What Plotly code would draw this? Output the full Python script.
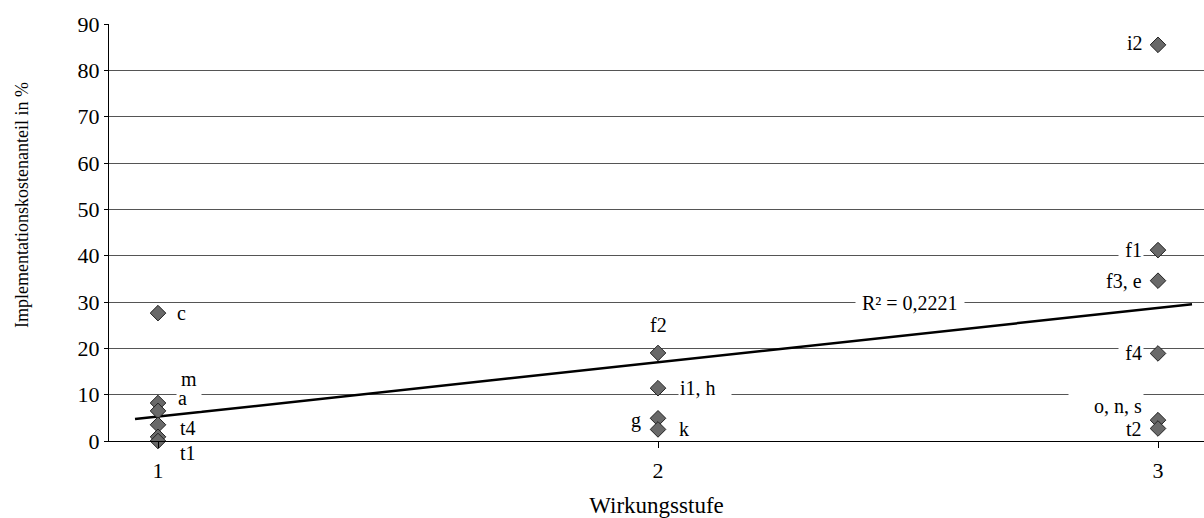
import numpy as np
import plotly.graph_objects as go

# Wirkungsstufe (x) und Implementationskostenanteil in % (y) je Maßnahme
stufe = [1, 1, 1, 1, 1, 1, 2, 2, 2, 2, 3, 3, 3, 3, 3, 3]
anteil = [27.6, 8.2, 6.5, 3.5, 0.9, 0.0,
          19.0, 11.4, 4.9, 2.5,
          85.5, 41.2, 34.6, 18.9, 4.5, 2.7]
punkt_labels = ["c", "m", "a", "t4", "t1", "",
                "f2", "i1, h", "g", "k",
                "i2", "f1", "f3, e", "f4", "o, n, s", "t2"]

y_ticks = [0, 10, 20, 30, 40, 50, 60, 70, 80, 90]
x_ticks = [1, 2, 3]
r2_text = "R² = 0,2221"
trend_extent = [0.954, 3.068]

# label placement: (xshift px, yshift px, xanchor, box width, white box)
placement = {
    "c": (17, 0, "left", None, False),
    "m": (21, 24, "left", None, False),
    "a": (18, 13, "left", 22, True),
    "t4": (20, -3, "left", None, False),
    "t1": (20, -16, "left", None, False),
    "f2": (0, 28, "center", None, False),
    "i1, h": (20, 0, "left", 50, True),
    "g": (-15, -2, "right", None, False),
    "k": (19, 0, "left", None, False),
    "i2": (-13, 2, "right", None, False),
    "f1": (-14, 0, "right", 22, True),
    "f3, e": (-14, 0, "right", None, False),
    "f4": (-14, 0, "right", 22, True),
    "o, n, s": (-14, 14, "right", 72, True),
    "t2": (-14, -1, "right", None, False),
}
# labels sitting on a grid line go first so neighbours stay readable
draw_order = ["a", "i1, h", "f1", "f4", "o, n, s"]

FONT = "Liberation Serif, Times New Roman, serif"
LABEL_SIZE = 20

# linear trend line fitted to the points
slope, intercept = np.polyfit(stufe, anteil, 1)
tx = np.array(trend_extent)
ty = slope * tx + intercept

fig = go.Figure()
fig.add_trace(go.Scatter(
    x=list(tx), y=list(ty), mode="lines",
    line=dict(color="black", width=2.5),
    hoverinfo="skip", showlegend=False, cliponaxis=False,
))
fig.add_trace(go.Scatter(
    x=stufe, y=anteil, mode="markers",
    marker=dict(symbol="diamond", size=12, color="#696969",
                line=dict(color="#222222", width=1)),
    showlegend=False, cliponaxis=False,
))

items = [(xv, yv, lab) for xv, yv, lab in zip(stufe, anteil, punkt_labels) if lab]
items.sort(key=lambda it: 0 if it[2] in draw_order else 1)

annotations = []
for xv, yv, lab in items:
    dx, dy, anchor, w, boxed = placement[lab]
    ann = dict(x=xv, y=yv, text=lab, showarrow=False,
               xanchor=anchor, yanchor="middle", xshift=dx, yshift=dy,
               font=dict(family=FONT, size=LABEL_SIZE, color="black"))
    if boxed:
        ann["bgcolor"] = "white"
        ann["borderpad"] = 1
    if w:
        ann["width"] = w
        ann["align"] = "right" if anchor == "right" else "left"
    annotations.append(ann)

# R² label centred on the 30 % grid line
annotations.append(dict(
    x=2.5, y=30, text=r2_text, showarrow=False, xanchor="center",
    yanchor="middle", xshift=2, yshift=-1,
    font=dict(family=FONT, size=LABEL_SIZE, color="black"),
    bgcolor="white", borderpad=6,
))

# vertical axis title, set slightly above the plot centre
annotations.append(dict(
    x=0, xref="paper", y=0.566, yref="paper",
    text="Implementationskostenanteil in %", textangle=-90,
    showarrow=False, xanchor="center", yanchor="middle", xshift=-87,
    font=dict(family=FONT, size=18, color="black"),
))

fig.update_layout(
    width=1204, height=518,
    margin=dict(l=109, r=0, t=24, b=77),
    paper_bgcolor="white", plot_bgcolor="white",
    font=dict(family=FONT, color="black"),
    annotations=annotations,
    xaxis=dict(
        range=[0.902, 3.092], tickvals=x_ticks,
        ticktext=[str(v) for v in x_ticks],
        showgrid=False, zeroline=False,
        showline=True, linecolor="black", linewidth=1,
        ticks="outside", ticklen=6, tickcolor="black",
        ticklabelstandoff=4,
        tickfont=dict(family=FONT, size=22),
        title=dict(text="Wirkungsstufe", font=dict(family=FONT, size=23),
                   standoff=18),
    ),
    yaxis=dict(
        range=[0, 90], tickvals=y_ticks,
        showgrid=True, gridcolor="#555555", gridwidth=1,
        zeroline=False,
        showline=True, linecolor="black", linewidth=1,
        ticks="outside", ticklen=4, tickcolor="black",
        tickfont=dict(family=FONT, size=22),
    ),
)

fig.write_html("out.html")
